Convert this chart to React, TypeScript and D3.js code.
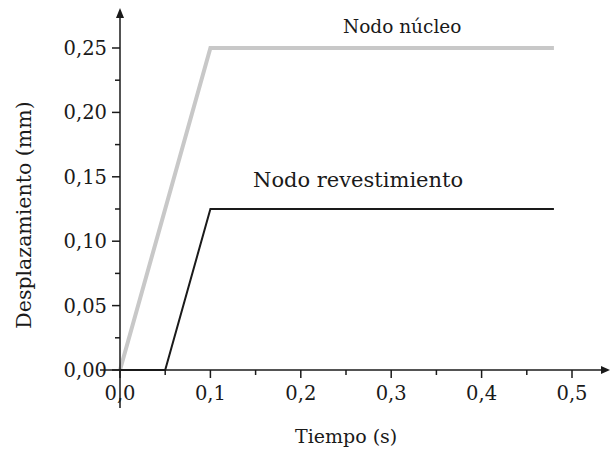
import React from 'react'
import * as d3 from 'd3'

// Nodo núcleo
const coreTime = [0, 0.1, 0.48]
const coreDisp = [0, 0.25, 0.25]
// Nodo revestimiento
const cladTime = [0, 0.05, 0.1, 0.48]
const cladDisp = [0, 0, 0.125, 0.125]

const xTicks = [0, 0.1, 0.2, 0.3, 0.4, 0.5]
const xMinor = [0.05, 0.15, 0.25, 0.35, 0.45]
const yTicks = [0, 0.05, 0.1, 0.15, 0.2, 0.25]
const yMinor = [0.025, 0.075, 0.125, 0.175, 0.225]

const font = 'DejaVu Serif'
const ink = '#1a1a1a'
const fmtX = (d: number) => d.toFixed(1).replace('.', ',')
const fmtY = (d: number) => d.toFixed(2).replace('.', ',')

const App = () => {
  const x = d3.scaleLinear().domain([0, 0.5]).range([120, 572])
  const y = d3.scaleLinear().domain([0, 0.25]).range([370, 48])

  const line = d3
    .line<[number, number]>()
    .x((d) => x(d[0]))
    .y((d) => y(d[1]))

  const core = coreTime.map((t, i) => [t, coreDisp[i]] as [number, number])
  const clad = cladTime.map((t, i) => [t, cladDisp[i]] as [number, number])

  return (
    <svg
      width={610}
      height={451}
      style={{ position: 'absolute', left: 0, top: 0, background: '#fff' }}
      fontFamily={font}
      fill={ink}
    >
      {/* series */}
      <path d={line(core) || ''} fill="none" stroke="#c8c8c8" strokeWidth={4} />
      <path d={line(clad) || ''} fill="none" stroke={ink} strokeWidth={2} />

      {/* x axis */}
      <line x1={100} x2={604} y1={y(0)} y2={y(0)} stroke={ink} strokeWidth={1.5} />
      <path d={`M610,${y(0)} L601,${y(0) - 4} L601,${y(0) + 4} Z`} />
      {xTicks.map((t) => (
        <g key={t}>
          <line x1={x(t)} x2={x(t)} y1={y(0)} y2={y(0) + 8} stroke={ink} strokeWidth={1.5} />
          <text x={x(t)} y={400} fontSize={19.5} textAnchor="middle">
            {fmtX(t)}
          </text>
        </g>
      ))}
      {xMinor.map((t) => (
        <line key={t} x1={x(t)} x2={x(t)} y1={y(0)} y2={y(0) + 5} stroke={ink} strokeWidth={1.5} />
      ))}

      {/* y axis */}
      <line x1={x(0)} x2={x(0)} y1={408} y2={16} stroke={ink} strokeWidth={1.5} />
      <path d={`M${x(0)},8 L${x(0) - 4},18 L${x(0) + 4},18 Z`} />
      {yTicks.map((t) => (
        <g key={t}>
          <line x1={x(0) - 8} x2={x(0)} y1={y(t)} y2={y(t)} stroke={ink} strokeWidth={1.5} />
          <text x={107} y={y(t) + 7} fontSize={19.5} textAnchor="end">
            {fmtY(t)}
          </text>
        </g>
      ))}
      {yMinor.map((t) => (
        <line key={t} x1={x(0) - 5} x2={x(0)} y1={y(t)} y2={y(t)} stroke={ink} strokeWidth={1.5} />
      ))}

      {/* titles */}
      <text x={295} y={443} fontSize={19}>
        Tiempo (s)
      </text>
      <text transform="translate(31,215) rotate(-90)" fontSize={20.5} textAnchor="middle">
        Desplazamiento (mm)
      </text>

      {/* series labels */}
      <text x={343} y={33} fontSize={18.5}>
        Nodo núcleo
      </text>
      <text x={253} y={187} fontSize={21}>
        Nodo revestimiento
      </text>
    </svg>
  )
}

export default App
